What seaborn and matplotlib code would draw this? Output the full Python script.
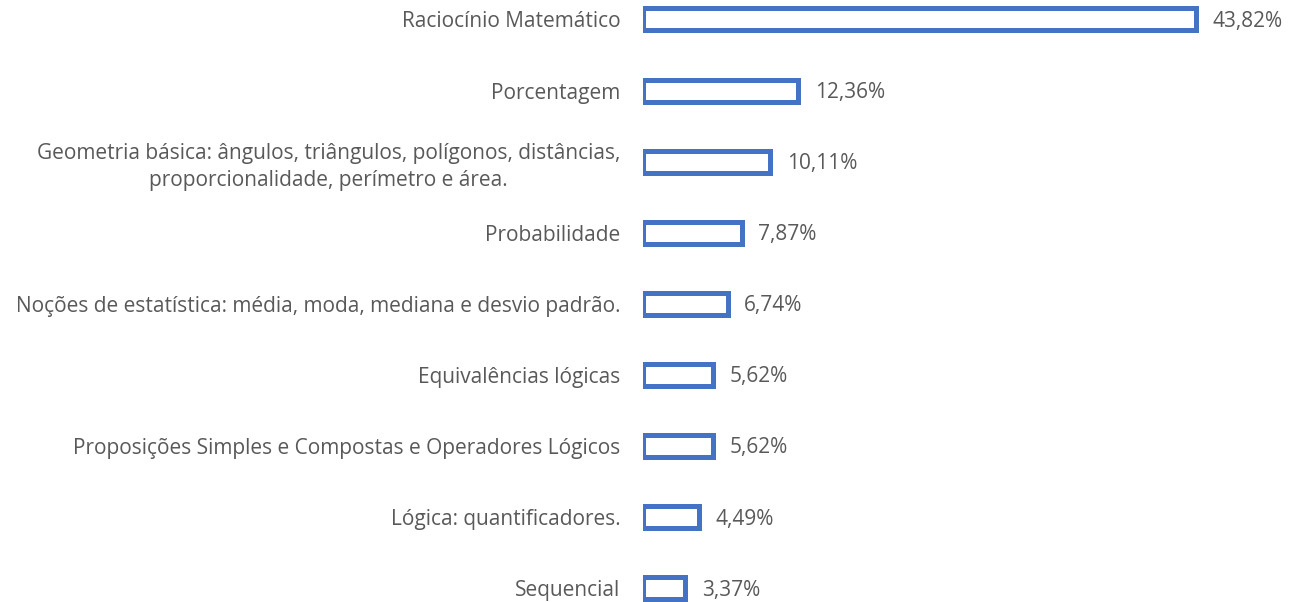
import matplotlib
matplotlib.use("Agg")
import matplotlib.pyplot as plt
import seaborn as sns
import pandas as pd

# Dados
categorias = [
    "Raciocínio Matemático",
    "Porcentagem",
    "Geometria básica: ângulos, triângulos, polígonos, distâncias,\nproporcionalidade, perímetro e área.",
    "Probabilidade",
    "Noções de estatística: média, moda, mediana e desvio padrão.",
    "Equivalências lógicas",
    "Proposições Simples e Compostas e Operadores Lógicos",
    "Lógica: quantificadores.",
    "Sequencial",
]
valores = [43.82, 12.36, 10.11, 7.87, 6.74, 5.62, 5.62, 4.49, 3.37]
rotulos = ["43,82%", "12,36%", "10,11%", "7,87%", "6,74%", "5,62%", "5,62%", "4,49%", "3,37%"]

df = pd.DataFrame({"categoria": categorias, "valor": valores})

sns.set_style("white")
plt.rcParams["font.family"] = ["Open Sans", "DejaVu Sans"]

azul = "#4472C4"
cinza = "#595959"
fs = 15

fig = plt.figure(figsize=(13.03, 6.02), dpi=100)
ax = fig.add_axes([642.5 / 1303, 0, 631 / 1303, 1])

sns.barplot(data=df, y="categoria", x="valor", orient="h", color="white",
            edgecolor=azul, linewidth=3.6, width=0.31, ax=ax)

ax.set_xlim(0, 50)
ax.set_ylim(8.197, -0.274)
ax.set_xlabel("")
ax.set_ylabel("")
ax.set_xticks([])
sns.despine(ax=ax, left=True, bottom=True, top=True, right=True)
ax.tick_params(axis="y", length=0, pad=16, labelsize=fs, labelcolor=cinza)
for t in ax.get_yticklabels():
    t.set_linespacing(1.35)
    t.set_multialignment("center")

# rótulos de valor à direita das barras
for i, (v, r) in enumerate(zip(valores, rotulos)):
    ax.annotate(r, xy=(v, i), xytext=(12, -1.5), textcoords="offset points",
                va="center", ha="left", fontsize=fs, color=cinza, annotation_clip=False)

fig.savefig("out.png", dpi=100)
